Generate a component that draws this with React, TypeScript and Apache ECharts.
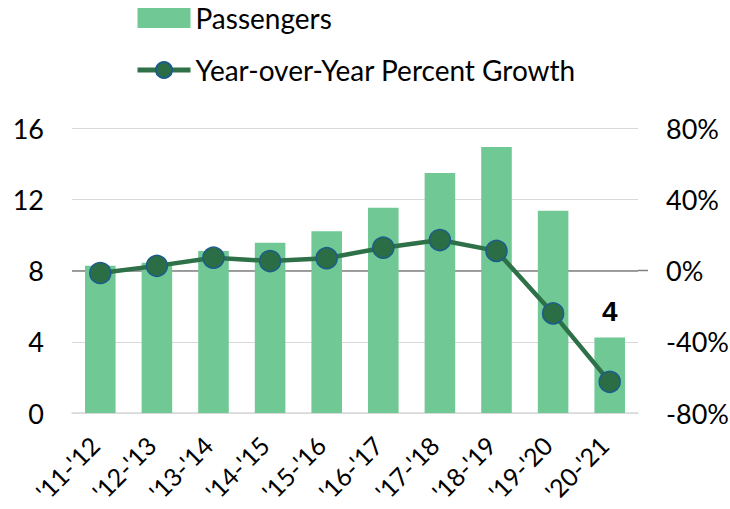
import React, { useEffect, useRef } from "react";
import * as echarts from "echarts";

const categories = ["'11-'12", "'12-'13", "'13-'14", "'14-'15", "'15-'16", "'16-'17", "'17-'18", "'18-'19", "'19-'20", "'20-'21"];
const passengers = [8.26, 8.44, 9.09, 9.56, 10.2, 11.52, 13.48, 14.94, 11.35, 4.24];
const growth = [-1.4, 2.6, 7.2, 5.3, 6.9, 12.8, 17.1, 11.0, -24.1, -62.5];
const seriesNames = ["Passengers", "Year-over-Year Percent Growth"];

const FONT = "Lato, 'Open Sans', sans-serif";

export default function App() {
  const ref = useRef<HTMLDivElement>(null);
  useEffect(() => {
    document.body.style.margin = "0";
    if (!ref.current) return;
    const chart = echarts.init(ref.current, undefined, { renderer: "svg" });
    const last = passengers.length - 1;
    const option: any = {
      animation: false,
      textStyle: { fontFamily: FONT },
      legend: {
        orient: "vertical",
        left: 135,
        top: 4,
        padding: 0,
        itemWidth: 53,
        itemHeight: 20,
        itemGap: 24,
        textStyle: { fontSize: 28, color: "#000", fontFamily: FONT },
        data: [
          { name: seriesNames[0], icon: "rect" },
          { name: seriesNames[1], lineStyle: { width: 5 } },
        ],
      },
      grid: { left: 72, right: 92, top: 128, bottom: 96, outerBoundsMode: "none", containLabel: false },
      xAxis: {
        type: "category",
        data: categories,
        axisLine: { lineStyle: { color: "#d9d9d9", width: 1.5 } },
        axisTick: { show: false },
        axisLabel: { rotate: 45, fontSize: 25, color: "#000", margin: 22, padding: [0, 8, 0, 0], fontFamily: FONT, interval: 0 },
      },
      yAxis: [
        {
          type: "value",
          min: 0,
          max: 16,
          interval: 4,
          axisLine: { show: false },
          axisTick: { show: false },
          splitLine: { lineStyle: { color: "#d9d9d9", width: 1 } },
          axisLabel: { fontSize: 27, color: "#000", margin: 28, fontFamily: FONT },
        },
        {
          type: "value",
          min: -80,
          max: 80,
          interval: 40,
          axisLine: { show: false },
          axisTick: { show: false },
          splitLine: { show: false },
          axisLabel: { fontSize: 27, color: "#000", margin: 28, fontFamily: FONT, formatter: "{value}%" },
        },
      ],
      series: [
        {
          name: seriesNames[0],
          type: "bar",
          barWidth: "54%",
          itemStyle: { color: "#70c994" },
          data: passengers.map((v, i) =>
            i === last
              ? {
                  value: v,
                  label: {
                    show: true,
                    position: "top",
                    distance: 12,
                    fontSize: 28,
                    fontWeight: "bold",
                    color: "#000",
                    fontFamily: "'Liberation Sans Narrow', 'Liberation Sans', sans-serif",
                    formatter: (p: any) => String(Math.round(p.value)),
                  },
                }
              : v
          ),
        },
        {
          name: seriesNames[1],
          type: "line",
          yAxisIndex: 1,
          symbol: "circle",
          symbolSize: 21,
          lineStyle: { color: "#2e7047", width: 4.5 },
          itemStyle: { color: "#2b6e45", borderColor: "#1c5c8c", borderWidth: 1.5 },
          data: growth,
          markLine: {
            silent: true,
            symbol: "none",
            label: { show: false },
            lineStyle: { color: "#808080", width: 1.5, type: "solid" },
            data: [{ yAxis: 0 }],
            z: 1,
          },
          z: 3,
        },
      ],
    };
    chart.setOption(option);
    const y0 = chart.convertToPixel({ yAxisIndex: 1 }, 0) as number;
    const xEnd = chart.convertToPixel({ xAxisIndex: 0 }, categories[last]) as number;
    const step = (chart.convertToPixel({ xAxisIndex: 0 }, categories[1]) as number) - (chart.convertToPixel({ xAxisIndex: 0 }, categories[0]) as number);
    const gridRight = xEnd + step / 2;
    chart.setOption({
      graphic: [
        {
          type: "line",
          shape: { x1: gridRight, y1: y0, x2: gridRight + 10, y2: y0 },
          style: { stroke: "#808080", lineWidth: 1.5 },
          silent: true,
        },
      ],
    });
    return () => chart.dispose();
  }, []);
  return <div ref={ref} style={{ width: 730, height: 509 }} />;
}
